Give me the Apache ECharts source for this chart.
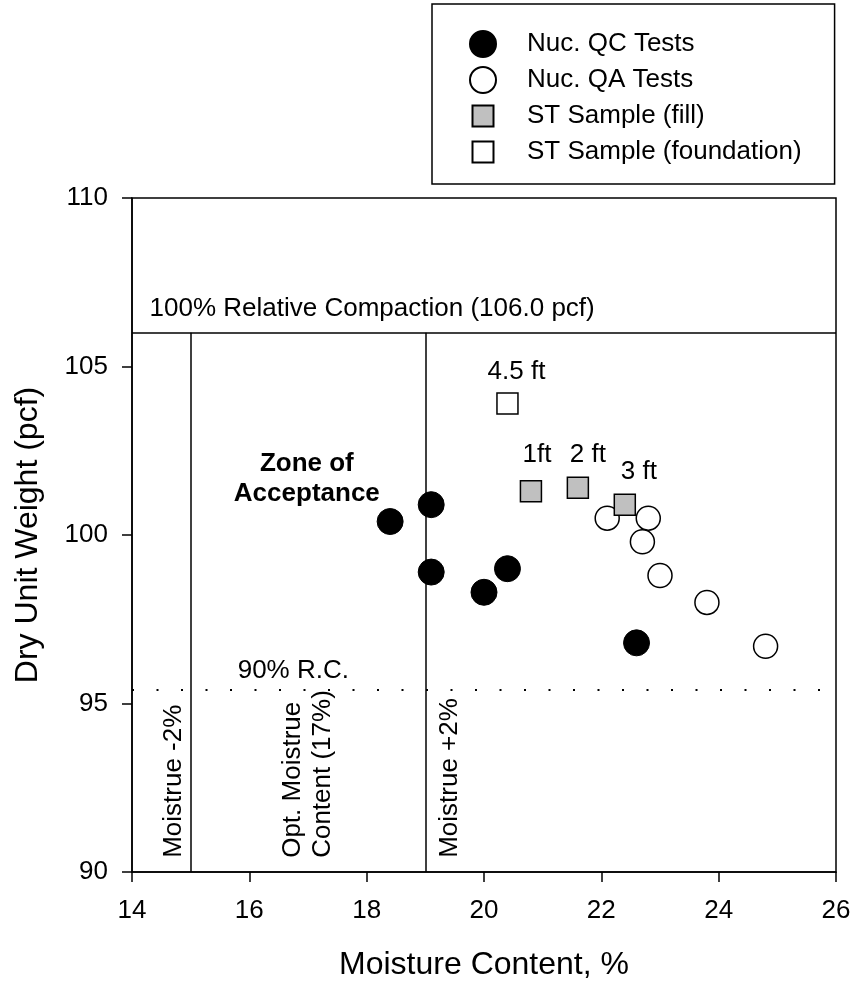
<!DOCTYPE html>
<html>
<head>
<meta charset="utf-8">
<script src="https://cdn.jsdelivr.net/npm/echarts@6/dist/echarts.min.js"></script>
<style>
html, body { margin: 0; padding: 0; background: #fff; }
#chart { width: 854px; height: 987px; }
</style>
</head>
<body>
<div id="chart"></div>
<script>
// data: [moisture %, dry unit weight pcf]
var qcTests = [[18.4, 100.4], [19.1, 100.9], [19.1, 98.9], [20.0, 98.3], [20.4, 99.0], [22.6, 96.8]];
var qaTests = [[22.1, 100.5], [22.8, 100.5], [22.7, 99.8], [23.0, 98.8], [23.8, 98.0], [24.8, 96.7]];
var stFill = [[20.8, 101.3], [21.6, 101.4], [22.4, 100.9]];
var stFillLabels = ['1ft', '2 ft', '3 ft'];
var stFoundation = [[20.4, 103.9]];
var stFoundationLabels = ['4.5 ft'];

var maxDensity = 106.0;
var rc90 = 95.4;
var optMoisture = 17;
var xTicks = [14, 16, 18, 20, 22, 24, 26];
var yTicks = [90, 95, 100, 105, 110];

var seriesNames = ['Nuc. QC Tests', 'Nuc. QA Tests', 'ST Sample (fill)', 'ST Sample (foundation)'];

var FONT = 'Liberation Sans, Arial, sans-serif';
var FS = 26;

// label offsets for the depth tags (pixels)
var fillOffsets = [[6, -36], [10, -33], [14, -33]];
var foundOffsets = [[9, -32]];

function tagged(points, labels, offsets) {
  return points.map(function (p, i) {
    return {
      value: p,
      label: { show: true, formatter: labels[i], position: 'inside', offset: offsets[i],
               color: '#000', fontFamily: FONT, fontSize: FS, textBorderWidth: 0 }
    };
  });
}

var notes = [
  { text: '100% Relative Compaction (106.0 pcf)', at: [14.3, 106.7], align: 'left' },
  { text: 'Zone of\nAcceptance', at: [16.98, 101.66], align: 'center', bold: true },
  { text: '90% R.C.', at: [16.75, 95.97], align: 'center' },
  { text: 'Moistrue -2%', at: [14.72, 90.42], align: 'left', rotate: 90 },
  { text: 'Opt. Moistrue\nContent (17%)', at: [17.0, 90.42], align: 'left', rotate: 90 },
  { text: 'Moistrue +2%', at: [19.42, 90.42], align: 'left', rotate: 90 }
];

// small square inside a 26x26 box for the legend
var squareIcon = 'path://M0,0M26,26M2.5,2.5H23.5V23.5H2.5Z';

var chart = echarts.init(document.getElementById('chart'));

var option = {
  backgroundColor: '#fff',
  animation: false,
  textStyle: { fontFamily: FONT },
  legend: {
    orient: 'vertical',
    left: 432,
    top: 4,
    data: [
      { name: seriesNames[0], icon: 'circle' },
      { name: seriesNames[1], icon: 'circle' },
      { name: seriesNames[2], icon: squareIcon },
      { name: seriesNames[3], icon: squareIcon }
    ],
    padding: [26, 33, 18, 37],
    itemGap: 8,
    itemWidth: 26,
    itemHeight: 26,
    borderColor: '#000',
    borderWidth: 1.5,
    textStyle: { color: '#000', fontSize: FS, fontFamily: FONT, padding: [0, 0, 0, 26] }
  },
  grid: {
    left: 132, right: 18, top: 198, bottom: 115,
    show: true, borderColor: '#000', borderWidth: 1.5, backgroundColor: 'transparent'
  },
  xAxis: {
    type: 'value', min: xTicks[0], max: xTicks[xTicks.length - 1], interval: 2,
    name: 'Moisture Content, %', nameLocation: 'middle', nameGap: 77,
    nameTextStyle: { color: '#000', fontSize: 32, fontFamily: FONT },
    axisLine: { lineStyle: { color: '#000', width: 1.5 } },
    axisTick: { inside: false, length: 10, lineStyle: { color: '#000', width: 1.5 } },
    axisLabel: { color: '#000', fontSize: FS, margin: 26, fontFamily: FONT },
    splitLine: { show: false }
  },
  yAxis: {
    type: 'value', min: yTicks[0], max: yTicks[yTicks.length - 1], interval: 5,
    name: 'Dry Unit Weight (pcf)', nameLocation: 'middle', nameGap: 88,
    nameTextStyle: { color: '#000', fontSize: 32, fontFamily: FONT },
    axisLine: { lineStyle: { color: '#000', width: 1.5 } },
    axisTick: { inside: false, length: 10, lineStyle: { color: '#000', width: 1.5 } },
    axisLabel: { color: '#000', fontSize: FS, margin: 24, fontFamily: FONT },
    splitLine: { show: false }
  },
  series: [
    {
      name: 'guides', type: 'scatter', data: [], silent: true,
      markLine: {
        silent: true, symbol: 'none', animation: false,
        label: { show: false },
        data: [
          [{ coord: [14, maxDensity], lineStyle: { color: '#000', width: 1.5, type: 'solid' } }, { coord: [26, maxDensity] }],
          [{ coord: [optMoisture - 2, 90], lineStyle: { color: '#000', width: 1.5, type: 'solid' } }, { coord: [optMoisture - 2, maxDensity] }],
          [{ coord: [optMoisture + 2, 90], lineStyle: { color: '#000', width: 1.5, type: 'solid' } }, { coord: [optMoisture + 2, maxDensity] }],
          [{ coord: [14, rc90], lineStyle: { color: '#000', width: 2, type: [2, 22.5] } }, { coord: [26, rc90] }]
        ]
      }
    },
    {
      name: 'notes', type: 'scatter', symbolSize: 0, silent: true, z: 5,
      itemStyle: { color: '#000', opacity: 1 },
      data: notes.map(function (n) {
        return {
          value: n.at,
          label: {
            show: true, position: 'inside', formatter: n.text,
            rotate: n.rotate || 0, align: n.align, verticalAlign: 'middle',
            color: '#000', fontSize: FS, fontFamily: FONT,
            fontWeight: n.bold ? 'bold' : 'normal',
            lineHeight: 30, textBorderWidth: 0, opacity: 1
          }
        };
      })
    },
    {
      name: seriesNames[0], type: 'scatter', symbol: 'circle', symbolSize: 26, z: 6,
      itemStyle: { color: '#000', borderColor: '#000', borderWidth: 1, opacity: 1 },
      data: qcTests
    },
    {
      name: seriesNames[1], type: 'scatter', symbol: 'circle', symbolSize: 24, z: 7,
      itemStyle: { color: '#fff', borderColor: '#000', borderWidth: 1.5, opacity: 1 },
      data: qaTests
    },
    {
      name: seriesNames[2], type: 'scatter', symbol: 'rect', symbolSize: 21, z: 8,
      itemStyle: { color: '#c0c0c0', borderColor: '#000', borderWidth: 1.5, opacity: 1 },
      data: tagged(stFill, stFillLabels, fillOffsets)
    },
    {
      name: seriesNames[3], type: 'scatter', symbol: 'rect', symbolSize: 21, z: 8,
      itemStyle: { color: '#fff', borderColor: '#000', borderWidth: 1.5, opacity: 1 },
      data: tagged(stFoundation, stFoundationLabels, foundOffsets)
    }
  ]
};

chart.setOption(option);
</script>
</body>
</html>
